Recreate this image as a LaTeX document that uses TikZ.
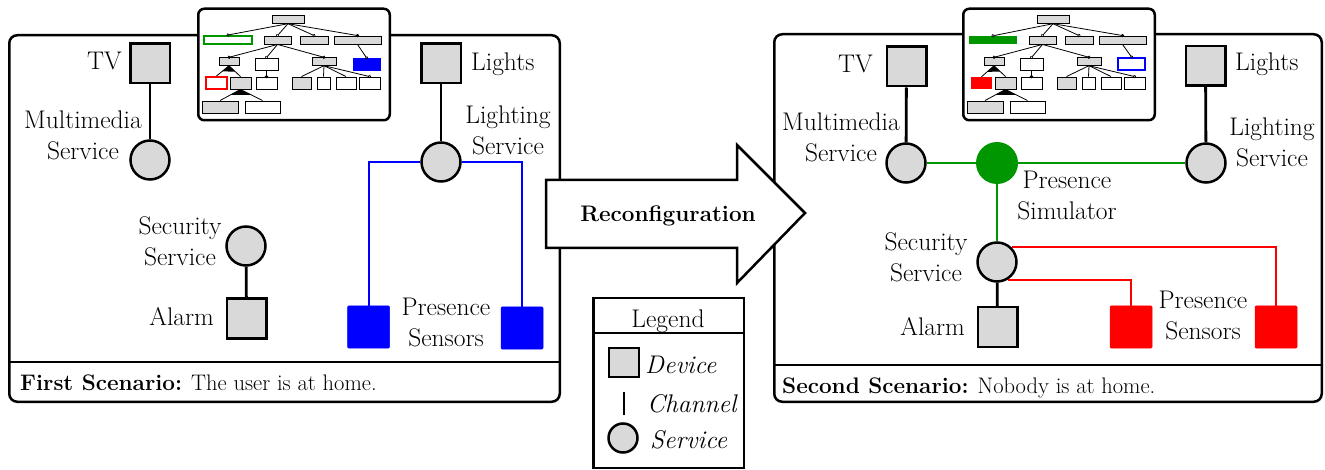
\documentclass[tikz,border=0pt]{standalone}
\usepackage{fontspec}
\usetikzlibrary{calc,arrows.meta}
\definecolor{devgray}{RGB}{217,217,217}
\definecolor{fmgreen}{RGB}{0,150,0}
\definecolor{pblue}{RGB}{0,0,255}
\definecolor{pred}{RGB}{255,0,0}
\tikzset{
 lab/.style={font=\fontsize{25.5}{31}\selectfont, inner sep=0pt, align=center},
 labi/.style={lab, font=\fontsize{25.5}{31}\selectfont\itshape},
 capt/.style={font=\fontsize{22.5}{30}\selectfont, inner sep=0pt},
 device/.style={draw, line width=2.5pt, fill=devgray, minimum width=39.5pt, minimum height=39.5pt, inner sep=0pt},
 service/.style={circle, draw, line width=2.5pt, fill=devgray, minimum size=39pt, inner sep=0pt},
 sensor/.style={fill=#1, draw=#1, line width=0.5pt, minimum width=42pt, minimum height=42pt, inner sep=0pt, rounded corners=1pt},
 simnode/.style={circle, fill=fmgreen, minimum size=42pt, inner sep=0pt},
 chan/.style={line width=2.8pt},
 link/.style={line width=2pt, draw=#1},
 panel/.style={line width=2.5pt, rounded corners=8pt},
 fmbase/.style={inner sep=0pt},
 fmn/.style={fmbase, draw, line width=0.9pt},
 fmg/.style={fmn, fill=devgray},
 fmw/.style={fmn, fill=white},
 fml/.style={line width=0.8pt},
 opt/.style={fml, shorten >=-1.6pt, -{Circle[open, length=3.2pt, line width=0.7pt]}},
 man/.style={fml, shorten >=-1.6pt, -{Circle[length=3.2pt]}},
}
\newcommand{\featmodel}[5]{%
\begin{scope}[xshift=#2]
\node[draw, line width=2.5pt, rounded corners=6pt, fill=white, minimum width=191.5pt, minimum height=111.5pt, inner sep=0pt] (#1box) at (294,64.5) {};
\node[fmg, minimum width=32pt, minimum height=7.5pt] (#1root) at (288,19.5) {};
\node[fmbase, minimum width=48pt, minimum height=8pt, #3] (#1A) at (228,40) {};
\node[fmg, minimum width=27pt, minimum height=8pt] (#1B) at (277.5,40) {};
\node[fmg, minimum width=28pt, minimum height=8pt] (#1C) at (314,40) {};
\node[fmg, minimum width=47pt, minimum height=8pt] (#1D) at (357.5,40) {};
\node[fmg, minimum width=20pt, minimum height=7.5pt] (#1B1) at (229,61.5) {};
\node[fmw, minimum width=23pt, minimum height=12pt] (#1B2) at (266.5,64) {};
\node[fmg, minimum width=24pt, minimum height=7.5pt] (#1C1) at (324,61.5) {};
\node[fmbase, minimum width=27pt, minimum height=12pt, #5] (#1D1) at (366.5,64) {};
\node[fmbase, minimum width=21pt, minimum height=12pt, #4] (#1B1a) at (216.5,83) {};
\node[fmg, minimum width=21pt, minimum height=12pt] (#1B1b) at (240.5,83) {};
\node[fmw, minimum width=21pt, minimum height=12pt] (#1B2a) at (266.5,83) {};
\node[fmg, minimum width=19pt, minimum height=12pt] (#1C1a) at (301.5,83) {};
\node[fmw, minimum width=13pt, minimum height=12pt] (#1C1b) at (323.5,83) {};
\node[fmw, minimum width=20pt, minimum height=12pt] (#1C1c) at (346,83) {};
\node[fmw, minimum width=21pt, minimum height=12pt] (#1C1d) at (369.5,83) {};
\node[fmg, minimum width=36pt, minimum height=12pt] (#1B1b1) at (220,107) {};
\node[fmw, minimum width=35pt, minimum height=12pt] (#1B1b2) at (262.5,107) {};
\draw[opt] (#1root.south) -- (#1A.north);
\draw[opt] (#1root.south) -- (#1B.north);
\draw[opt] (#1root.south) -- (#1C.north);
\draw[man] (#1root.south) -- (#1D.north);
\draw[opt] (#1B.south) -- (#1B1.north);
\draw[opt] (#1B.south) -- (#1B2.north);
\draw[opt] (#1B.south) -- (#1C1.north);
\draw[opt] (#1D.south) -- (#1D1.north);
\draw[man] (#1B2.south) -- (#1B2a.north);
\draw[fml] (#1B1.south) -- (#1B1a.north);
\draw[fml] (#1B1.south) -- (#1B1b.north);
\fill (#1B1.south) -- ($(#1B1.south)!0.55!(#1B1a.north)$) -- ($(#1B1.south)!0.55!(#1B1b.north)$) -- cycle;
\draw[fml] (#1B1b.south) -- (#1B1b1.north);
\draw[fml] (#1B1b.south) -- (#1B1b2.north);
\fill (#1B1b.south) -- ($(#1B1b.south)!0.5!(#1B1b1.north)$) -- ($(#1B1b.south)!0.5!(#1B1b2.north)$) -- cycle;
\draw[fml] (#1C1.south) -- (#1C1a.north);
\draw[fml] (#1C1.south) -- (#1C1b.north);
\draw[fml] (#1C1.south) -- (#1C1c.north);
\draw[opt] (#1C1.south) -- (#1C1d.north);
\end{scope}}
\begin{document}
\begin{tikzpicture}[x=1pt,y=-1pt]
\useasboundingbox (0,0) rectangle (1325,470);
% panels
\draw[panel, fill=white] (9.25,35.25) rectangle (559.75,401.75);
\draw[line width=2.5pt] (9.25,362) -- (559.75,362);
\draw[panel, fill=white] (774.25,34.25) rectangle (1321.75,401.75);
\draw[line width=2.5pt] (774.25,365) -- (1321.75,365);
% feature models
\featmodel{L}{0}{draw=fmgreen, line width=2pt, fill=white}{draw=pred, line width=2pt, fill=white}{fill=pblue, draw=pblue}
\featmodel{R}{765}{fill=fmgreen}{fill=pred}{draw=pblue, line width=2pt, fill=white}
% arrow
\draw[line width=2.5pt, fill=white] (546,180) -- (737,180) -- (737,145) -- (805,213) -- (737,283) -- (737,248) -- (546,248) -- cycle;
\node[lab, font=\fontsize{22.5}{31}\selectfont\bfseries, anchor=base] (reconf) at (668,222) {Reconfiguration};
% legend
\draw[line width=2.5pt, fill=white] (593.25,298.25) rectangle (743.75,467.75);
\draw[line width=2.5pt] (593.25,333) -- (743.75,333);
\node[lab, anchor=base] (legt) at (668,327) {Legend};
\node[device, minimum width=30pt, minimum height=29pt] (legdev) at (624,362.5) {};
\node[labi, anchor=base west] (legdevl) at (645,373) {Device};
\coordinate (legc1) at (624,392);
\coordinate (legc2) at (624,415);
\draw[chan] (legc1) -- (legc2);
\node[labi, anchor=base west] (legchl) at (647,412) {Channel};
\node[service, minimum size=29pt] (legsrv) at (623,438) {};
\node[labi, anchor=base west] (legsrvl) at (650,448) {Service};
% first scenario
\node[device] (TV1) at (150,63.5) {};
\node[lab, anchor=base east] (TV1l) at (122,70) {TV};
\node[service] (MM1) at (150,160) {};
\node[lab, anchor=south] (MM1l) at (83,160) {Multimedia\\Service};
\node[device] (LI1) at (441,63.5) {};
\node[lab, anchor=base west] (LI1l) at (471,71) {Lights};
\node[service] (LS1) at (441,162) {};
\node[lab, anchor=south] (LS1l) at (508,155) {Lighting\\Service};
\node[service] (SS1) at (246,246) {};
\node[lab, anchor=south] (SS1l) at (180,266) {Security\\Service};
\node[device] (AL1) at (246.5,318.5) {};
\node[lab, anchor=base east] (AL1l) at (214,326) {Alarm};
\node[sensor=pblue] (PS1a) at (368.5,327) {};
\node[sensor=pblue] (PS1b) at (522,328) {};
\node[lab, anchor=south] (PS1l) at (446,347) {Presence\\Sensors};
\draw[chan] (TV1) -- (MM1);
\draw[chan] (LI1) -- (LS1);
\draw[chan] (SS1) -- (AL1);
\draw[link=pblue] (LS1.west) -| (PS1a.north);
\draw[link=pblue] (LS1.east) -| (PS1b.north);
\node[capt, anchor=base west] (cap1) at (20,390) {\textbf{First Scenario:} The user is at home.};
% second scenario
\node[device] (TV2) at (906.5,66.5) {};
\node[lab, anchor=base east] (TV2l) at (873,73) {TV};
\node[service] (MM2) at (906,163) {};
\node[lab, anchor=south] (MM2l) at (841,162) {Multimedia\\Service};
\node[simnode] (PSim) at (997,163) {};
\node[lab, anchor=south] (PSiml) at (1067,220) {Presence\\Simulator};
\node[device] (LI2) at (1205.5,66) {};
\node[lab, anchor=base west] (LI2l) at (1235,71) {Lights};
\node[service] (LS2) at (1206,163) {};
\node[lab, anchor=south] (LS2l) at (1272,167) {Lighting\\Service};
\node[service] (SS2) at (997,262) {};
\node[lab, anchor=south] (SS2l) at (926,282) {Security\\Service};
\node[device] (AL2) at (997.5,327) {};
\node[lab, anchor=base east] (AL2l) at (965,335) {Alarm};
\node[sensor=pred] (RS2a) at (1131,327) {};
\node[sensor=pred] (RS2b) at (1276,327) {};
\node[lab, anchor=south] (RS2l) at (1203,340) {Presence\\Sensors};
\draw[chan] (TV2) -- (MM2);
\draw[chan] (LI2) -- (LS2);
\draw[chan] (SS2) -- (AL2);
\draw[link=fmgreen] (MM2) -- (PSim);
\draw[link=fmgreen] (PSim) -- (LS2);
\draw[link=fmgreen] (PSim) -- (SS2);
\draw[link=pred] (SS2.45) -| (RS2b.north);
\draw[link=pred] (SS2.-58) -| (RS2a.north);
\node[capt, anchor=base west] (cap2) at (782,393) {\textbf{Second Scenario:} Nobody is at home.};
\end{tikzpicture}
\end{document}
